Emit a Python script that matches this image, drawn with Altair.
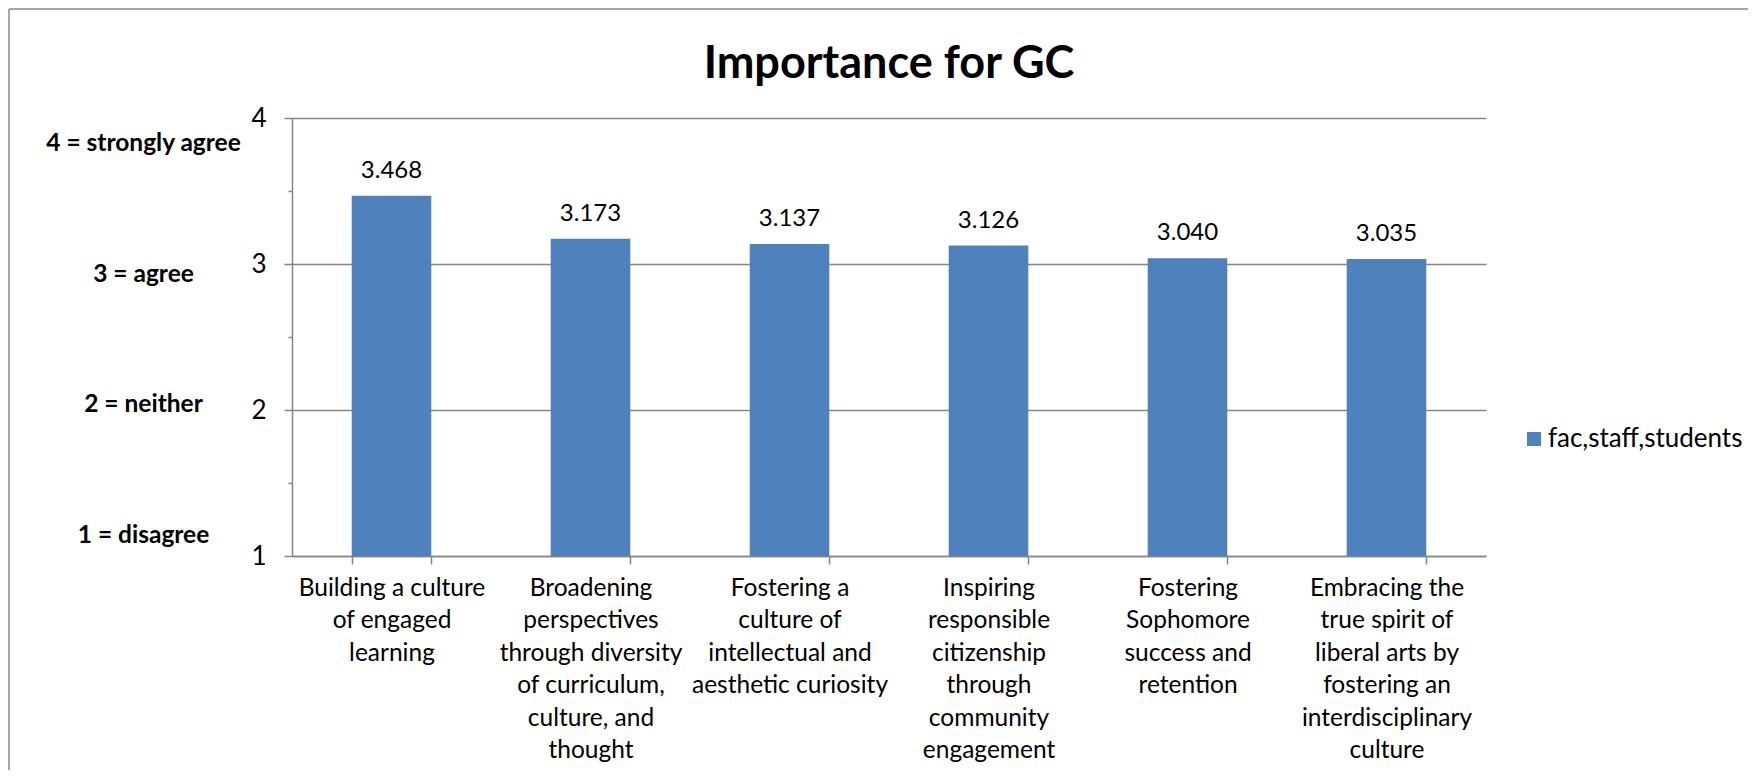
import altair as alt
import pandas as pd

chart_title = "Importance for GC"
series_name = "fac,staff,students"
categories = [
    "Building a culture\nof engaged\nlearning",
    "Broadening\nperspectives\nthrough diversity\nof curriculum,\nculture, and\nthought",
    "Fostering a\nculture of\nintellectual and\naesthetic curiosity",
    "Inspiring\nresponsible\ncitizenship\nthrough\ncommunity\nengagement",
    "Fostering\nSophomore\nsuccess and\nretention",
    "Embracing the\ntrue spirit of\nliberal arts by\nfostering an\ninterdisciplinary\nculture",
]
values = [3.468, 3.173, 3.137, 3.126, 3.040, 3.035]
y_tick_values = [1, 1.5, 2, 2.5, 3, 3.5, 4]
scale_values = [1, 2, 3, 4]
scale_labels = ["1 = disagree", "2 = neither", "3 = agree", "4 = strongly agree"]

FONT = "Lato"
BLUE = "#4F81BD"
GRAY = "#868686"
W, H = 1194, 438

df = pd.DataFrame({"category": categories, "value": values, "series": [series_name] * len(values)})
df_scale = pd.DataFrame({"v": scale_values, "label": scale_labels})

x_enc = alt.X(
    "category:N",
    sort=categories,
    scale=alt.Scale(paddingInner=0.6, paddingOuter=0.3),
    axis=alt.Axis(
        title=None, labelAngle=0, labelFont=FONT, labelFontSize=24.5, labelColor="black",
        labelLineHeight=32.5, labelBaseline="top", labelExpr="split(datum.label, '\\n')",
        labelLimit=300, tickSize=8, labelPadding=12, tickBand="extent",
        domainColor=GRAY, tickColor=GRAY, domainWidth=1.5, tickWidth=1.5,
    ),
)

y_scale = alt.Scale(domain=[1, 4], nice=False, zero=False)

bars = alt.Chart(df).mark_bar(color=BLUE).encode(
    x=x_enc,
    y=alt.Y(
        "value:Q",
        scale=y_scale,
        axis=alt.Axis(
            title=None, orient="left", values=y_tick_values,
            labelExpr="datum.value % 1 == 0 ? format(datum.value, 'd') : ''",
            labelFont=FONT, labelFontSize=26, labelColor="black", labelPadding=18,
            tickSize={"condition": {"test": "datum.value % 1 == 0", "value": 8}, "value": 4},
            grid=True, gridColor=GRAY, gridWidth=1.5,
            gridOpacity={"condition": {"test": "datum.value % 1 == 0", "value": 1}, "value": 0},
            domainColor=GRAY, tickColor=GRAY, domainWidth=1.5, tickWidth=1.5,
        ),
    ),
    y2=alt.datum(1),
    color=alt.Color(
        "series:N",
        scale=alt.Scale(range=[BLUE]),
        legend=alt.Legend(
            title=None, orient="none", legendX=1229, legendY=308,
            symbolType="square", symbolSize=196, symbolStrokeWidth=0,
            labelFont=FONT, labelFontSize=26, labelColor="black", labelOffset=1,
            labelLimit=400, padding=0,
        ),
    ),
)

labels = alt.Chart(df).mark_text(
    baseline="alphabetic", dy=-18, font=FONT, fontSize=24, color="black"
).encode(
    x=alt.X("category:N", sort=categories),
    y=alt.Y("value:Q", scale=y_scale),
    text=alt.Text("value:Q", format=".3f"),
)

frame_top = alt.Chart(pd.DataFrame({"a": [0]})).mark_rule(color="#888888", strokeWidth=1.5).encode(
    x=alt.value(-283), x2=alt.value(W + 262), y=alt.value(-109)
)
frame_left = alt.Chart(pd.DataFrame({"a": [0]})).mark_rule(color="#888888", strokeWidth=1.5).encode(
    x=alt.value(-283), y=alt.value(-109), y2=alt.value(H + 214)
)

main = alt.layer(bars, labels, frame_top, frame_left)

label_expr = " : ".join(
    f"datum.value == {v} ? '{t}'" for v, t in zip(scale_values, scale_labels)
) + " : ''"

scale_axis = alt.Chart(df_scale).mark_point(opacity=0).encode(
    y=alt.Y(
        "v:Q",
        scale=alt.Scale(domain=[0.84, 4.195], nice=False, zero=False),
        axis=alt.Axis(
            title=None, orient="left", values=scale_values, labelExpr=label_expr,
            ticks=False, domain=False, grid=False, labelFont=FONT, labelFontSize=24.5,
            labelFontWeight="bold", labelColor="black", labelAlign="center",
            labelPadding=149, labelLimit=300,
        ),
    ),
)

chart = alt.layer(main, scale_axis).resolve_scale(y="independent").properties(
    width=W,
    height=H,
    padding={"left": 284, "top": 110, "right": 262, "bottom": 214},
    autosize="none",
    title=alt.TitleParams(
        chart_title, font=FONT, fontSize=45, fontWeight="bold", color="black",
        anchor="middle", frame="group", baseline="alphabetic", offset=-115,
    ),
).configure_view(stroke=None)

chart.save("out.html", embed_options={"renderer": "svg", "actions": False})
